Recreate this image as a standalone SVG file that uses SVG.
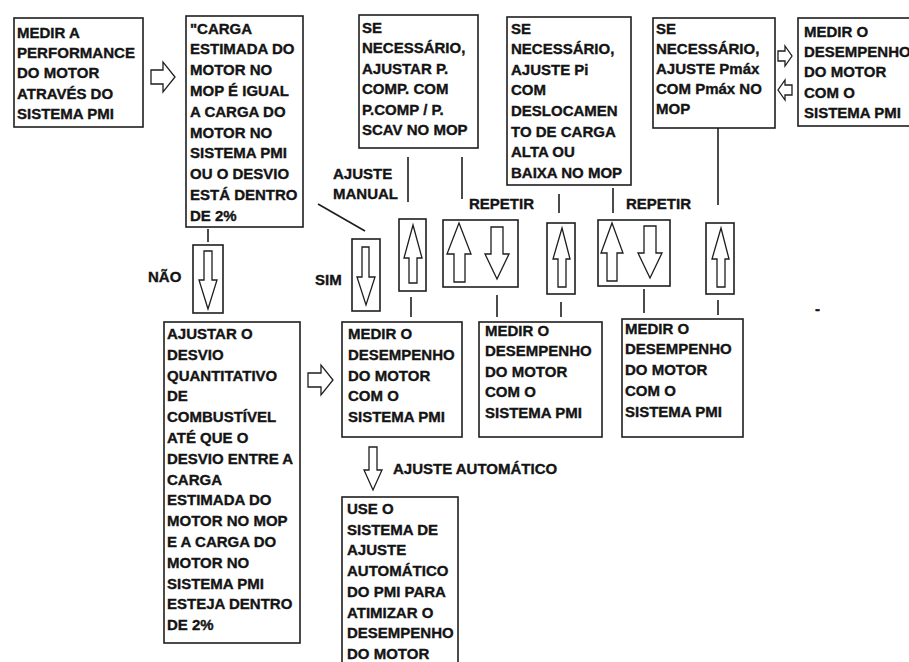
<svg xmlns="http://www.w3.org/2000/svg" width="909" height="662" viewBox="0 0 909 662">
<style>
.box{fill:#fff;stroke:#1e1e1e;stroke-width:1.6}
.t{font-family:"Liberation Sans",Arial,sans-serif;font-weight:bold;font-size:15px;fill:#141414;stroke:#141414;stroke-width:0.35}
.ln{stroke:#1e1e1e;stroke-width:1.6;fill:none}
.arr{fill:#fff;stroke:#1e1e1e;stroke-width:1.3;stroke-linejoin:miter}
</style>
<rect width="909" height="662" fill="#fff"/>
<g id="connectors">
<line class="ln" x1="208" y1="229" x2="208" y2="242"/>
<line class="ln" x1="318" y1="204" x2="365" y2="231"/>
<line class="ln" x1="408" y1="157" x2="408" y2="202"/>
<line class="ln" x1="462" y1="157" x2="462" y2="199"/>
<line class="ln" x1="559" y1="194" x2="559" y2="213"/>
<line class="ln" x1="613" y1="188" x2="613" y2="213"/>
<line class="ln" x1="718" y1="127" x2="718" y2="205"/>
<line class="ln" x1="411" y1="297" x2="411" y2="317"/>
<line class="ln" x1="497" y1="295" x2="497" y2="317"/>
<line class="ln" x1="561" y1="302" x2="561" y2="317"/>
<line class="ln" x1="644" y1="289" x2="644" y2="313"/>
<line class="ln" x1="718" y1="300" x2="718" y2="315"/>
<polygon class="arr" points="151,70 163,70 163,62 175,77 163,92 163,84 151,84"/>
<polygon class="arr" points="308,373 321,373 321,365 333,380 321,395 321,387 308,387"/>
<polygon class="arr" points="778,51 785,51 785,46 792,56 785,66 785,61 778,61"/>
<polygon class="arr" points="792,85 785,85 785,80 778,90 785,100 785,95 792,95"/>
<polygon class="arr" points="369,447 377,447 377,470 382,470 373,490 364,470 369,470"/>
</g>
<g id="arrow-nao">
<rect class="box" x="193" y="245" width="30" height="68"/>
<polygon class="arr" points="204,251 212,251 212,280 217,280 208,309 199,280 204,280"/>
</g>
<g id="arrow-sim">
<rect class="box" x="352" y="239" width="28" height="72"/>
<polygon class="arr" points="362,247 369,247 369,277 375,277 366,305 357,277 362,277"/>
</g>
<g id="arrow-manual">
<rect class="box" x="399" y="219" width="27" height="72"/>
<polygon class="arr" points="413,225 422,258 417,258 417,283 409,283 409,258 404,258"/>
</g>
<g id="arrow-repeat1">
<rect class="box" x="443" y="220" width="75" height="67"/>
<polygon class="arr" points="459,223 471,254 465,254 465,282 454,282 454,254 447,254"/>
<polygon class="arr" points="491,227 503,227 503,254 509,254 497,279 485,254 491,254"/>
</g>
<g id="arrow-up2">
<rect class="box" x="547" y="223" width="28" height="71"/>
<polygon class="arr" points="562,228 570,259 566,259 566,287 558,287 558,259 553,259"/>
</g>
<g id="arrow-repeat2">
<rect class="box" x="598" y="220" width="72" height="66"/>
<polygon class="arr" points="612,223 623,253 617,253 617,281 607,281 607,253 601,253"/>
<polygon class="arr" points="644,226 656,226 656,253 662,253 650,278 638,253 644,253"/>
</g>
<g id="arrow-up3">
<rect class="box" x="706" y="223" width="28" height="71"/>
<polygon class="arr" points="721,228 729,259 725,259 725,287 717,287 717,259 712,259"/>
</g>
<g id="n1">
<rect class="box" x="14" y="18" width="129" height="109"/>
<text class="t"><tspan x="17" y="38">MEDIR A</tspan><tspan x="17" dy="20.2" textLength="118" lengthAdjust="spacingAndGlyphs">PERFORMANCE</tspan><tspan x="17" dy="20.2">DO MOTOR</tspan><tspan x="17" dy="20.2">ATRAVÉS DO</tspan><tspan x="17" dy="20.2">SISTEMA PMI</tspan></text>
</g>
<g id="n2">
<rect class="box" x="186" y="16" width="117" height="211"/>
<text class="t"><tspan x="190" y="33.5">"CARGA</tspan><tspan x="190" dy="20.8">ESTIMADA DO</tspan><tspan x="190" dy="20.8">MOTOR NO</tspan><tspan x="190" dy="20.8">MOP É IGUAL</tspan><tspan x="190" dy="20.8">A CARGA DO</tspan><tspan x="190" dy="20.8">MOTOR NO</tspan><tspan x="190" dy="20.8">SISTEMA PMI</tspan><tspan x="190" dy="20.8">OU O DESVIO</tspan><tspan x="190" dy="20.8">ESTÁ DENTRO</tspan><tspan x="190" dy="20.8">DE 2%</tspan></text>
</g>
<g id="n3">
<rect class="box" x="359" y="15" width="119" height="133"/>
<text class="t"><tspan x="362" y="32.5">SE</tspan><tspan x="362" dy="20.5">NECESSÁRIO,</tspan><tspan x="362" dy="20.5">AJUSTAR P.</tspan><tspan x="362" dy="20.5">COMP. COM</tspan><tspan x="362" dy="20.5">P.COMP / P.</tspan><tspan x="362" dy="20.5">SCAV NO MOP</tspan></text>
</g>
<g id="n4">
<rect class="box" x="507" y="17" width="124" height="168"/>
<text class="t"><tspan x="511" y="33.5">SE</tspan><tspan x="511" dy="20.6">NECESSÁRIO,</tspan><tspan x="511" dy="20.6">AJUSTE Pi</tspan><tspan x="511" dy="20.6">COM</tspan><tspan x="511" dy="20.6">DESLOCAMEN</tspan><tspan x="511" dy="20.6">TO DE CARGA</tspan><tspan x="511" dy="20.6">ALTA OU</tspan><tspan x="511" dy="20.6">BAIXA NO MOP</tspan></text>
</g>
<g id="n5">
<rect class="box" x="653" y="18" width="122" height="110"/>
<text class="t"><tspan x="656" y="33.5">SE</tspan><tspan x="656" dy="20.2">NECESSÁRIO,</tspan><tspan x="656" dy="20.2">AJUSTE Pmáx</tspan><tspan x="656" dy="20.2">COM Pmáx NO</tspan><tspan x="656" dy="20.2">MOP</tspan></text>
</g>
<g id="n6">
<rect class="box" x="798" y="18" width="120" height="108"/>
<text class="t"><tspan x="804" y="37">MEDIR O</tspan><tspan x="804" dy="20.2">DESEMPENHO</tspan><tspan x="804" dy="20.2">DO MOTOR</tspan><tspan x="804" dy="20.2">COM O</tspan><tspan x="804" dy="20.2">SISTEMA PMI</tspan></text>
</g>
<g id="n7">
<rect class="box" x="164" y="322" width="136" height="321"/>
<text class="t"><tspan x="167" y="339">AJUSTAR O</tspan><tspan x="167" dy="20.8">DESVIO</tspan><tspan x="167" dy="20.8">QUANTITATIVO</tspan><tspan x="167" dy="20.8">DE</tspan><tspan x="167" dy="20.8">COMBUSTÍVEL</tspan><tspan x="167" dy="20.8">ATÉ QUE O</tspan><tspan x="167" dy="20.8">DESVIO ENTRE A</tspan><tspan x="167" dy="20.8">CARGA</tspan><tspan x="167" dy="20.8">ESTIMADA DO</tspan><tspan x="167" dy="20.8">MOTOR NO MOP</tspan><tspan x="167" dy="20.8">E A CARGA DO</tspan><tspan x="167" dy="20.8">MOTOR NO</tspan><tspan x="167" dy="20.8">SISTEMA PMI</tspan><tspan x="167" dy="20.8">ESTEJA DENTRO</tspan><tspan x="167" dy="20.8">DE 2%</tspan></text>
</g>
<g id="n8">
<rect class="box" x="342" y="322" width="120" height="115"/>
<text class="t"><tspan x="348" y="339">MEDIR O</tspan><tspan x="348" dy="20.8">DESEMPENHO</tspan><tspan x="348" dy="20.8">DO MOTOR</tspan><tspan x="348" dy="20.8">COM O</tspan><tspan x="348" dy="20.8">SISTEMA PMI</tspan></text>
</g>
<g id="n9">
<rect class="box" x="479" y="322" width="123" height="115"/>
<text class="t"><tspan x="485" y="336">MEDIR O</tspan><tspan x="485" dy="20.4">DESEMPENHO</tspan><tspan x="485" dy="20.4">DO MOTOR</tspan><tspan x="485" dy="20.4">COM O</tspan><tspan x="485" dy="20.4">SISTEMA PMI</tspan></text>
</g>
<g id="n10">
<rect class="box" x="622" y="319" width="121" height="118"/>
<text class="t"><tspan x="625" y="333.5">MEDIR O</tspan><tspan x="625" dy="20.8">DESEMPENHO</tspan><tspan x="625" dy="20.8">DO MOTOR</tspan><tspan x="625" dy="20.8">COM O</tspan><tspan x="625" dy="20.8">SISTEMA PMI</tspan></text>
</g>
<g id="n11">
<rect class="box" x="342" y="497" width="116" height="180"/>
<text class="t"><tspan x="347" y="514">USE O</tspan><tspan x="347" dy="20.7">SISTEMA DE</tspan><tspan x="347" dy="20.7">AJUSTE</tspan><tspan x="347" dy="20.7">AUTOMÁTICO</tspan><tspan x="347" dy="20.7">DO PMI PARA</tspan><tspan x="347" dy="20.7">ATIMIZAR O</tspan><tspan x="347" dy="20.7">DESEMPENHO</tspan><tspan x="347" dy="20.7">DO MOTOR</tspan></text>
</g>
<g id="labels">
<text class="t"><tspan x="333" y="179">AJUSTE</tspan><tspan x="333" y="199">MANUAL</tspan></text>
<text class="t" x="469" y="209">REPETIR</text>
<text class="t" x="626" y="209">REPETIR</text>
<text class="t" x="148" y="282">NÃO</text>
<text class="t" x="315" y="285">SIM</text>
<text class="t" x="393" y="474">AJUSTE AUTOMÁTICO</text>
<text class="t" x="815" y="314">-</text>
</g>
</svg>
